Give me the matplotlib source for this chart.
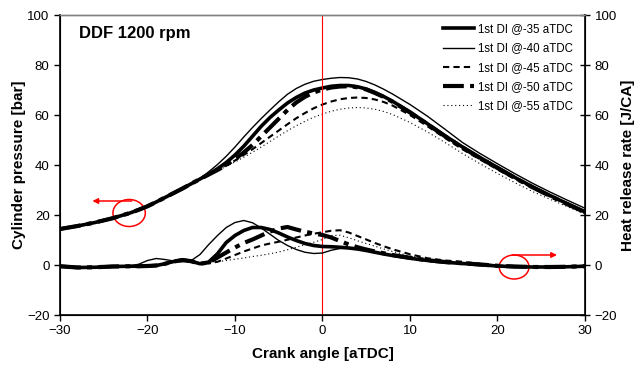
import matplotlib
matplotlib.use("Agg")
import matplotlib.pyplot as plt
from matplotlib.patches import Ellipse

plt.rcParams["font.family"] = ["Liberation Sans", "DejaVu Sans"]

# crank angle grid [aTDC]
crank = [-30, -28, -26, -24, -22, -21, -20, -19, -18, -17, -16, -15, -14, -13,
         -12, -11, -10, -9, -8, -7, -6, -5, -4, -3, -2, -1, 0, 1, 2, 3, 4, 5,
         6, 7, 8, 10, 12, 14, 16, 18, 20, 22, 24, 26, 28, 30]

labels = ["1st DI @-35 aTDC", "1st DI @-40 aTDC", "1st DI @-45 aTDC",
          "1st DI @-50 aTDC", "1st DI @-55 aTDC"]

# cylinder pressure [bar]
p_35 = [14.4, 15.6, 17.0, 18.7, 20.8, 22.1, 23.5, 25.2, 27.0, 28.8, 30.6, 32.5,
        34.4, 36.3, 38.5, 41.0, 44.0, 47.5, 51.5, 55.5, 59.0, 62.0, 64.8, 67.0,
        68.8, 70.0, 70.8, 71.5, 71.8, 71.8, 71.3, 70.4, 69.0, 67.4, 65.5, 61.2,
        56.5, 51.7, 47.2, 43.0, 39.0, 35.0, 31.3, 27.8, 24.5, 21.3]
p_40 = [14.4, 15.6, 17.0, 18.7, 20.8, 22.1, 23.5, 25.2, 27.0, 28.8, 30.6, 32.5,
        34.6, 37.3, 40.2, 43.5, 47.2, 51.2, 55.0, 58.6, 62.0, 65.3, 68.3, 70.6,
        72.3, 73.5, 74.2, 74.7, 75.0, 74.9, 74.4, 73.4, 72.0, 70.3, 68.4, 64.2,
        59.5, 54.3, 49.0, 44.6, 40.5, 36.5, 32.7, 29.2, 25.9, 22.7]
p_45 = [14.4, 15.6, 17.0, 18.7, 20.8, 22.1, 23.5, 25.2, 27.0, 28.8, 30.6, 32.5,
        34.4, 36.3, 38.0, 39.8, 41.8, 44.0, 46.3, 48.8, 51.3, 53.8, 56.3, 58.7,
        60.8, 62.7, 64.2, 65.4, 66.3, 66.8, 67.0, 66.8, 66.2, 65.2, 63.8, 60.0,
        55.5, 50.8, 46.3, 42.2, 38.2, 34.4, 30.8, 27.4, 24.2, 21.0]
p_50 = [14.4, 15.6, 17.0, 18.7, 20.8, 22.1, 23.5, 25.2, 27.0, 28.8, 30.6, 32.5,
        34.4, 36.2, 38.0, 40.0, 42.4, 45.0, 48.0, 51.5, 55.0, 58.5, 62.0, 65.0,
        67.3, 69.0, 70.2, 71.0, 71.4, 71.5, 71.1, 70.2, 68.8, 67.2, 65.3, 61.0,
        56.3, 51.5, 47.0, 42.8, 38.8, 34.8, 31.1, 27.6, 24.3, 21.1]
p_55 = [14.4, 15.6, 17.0, 18.7, 20.8, 22.1, 23.5, 25.2, 27.0, 28.8, 30.6, 32.5,
        34.4, 36.3, 37.8, 39.4, 41.2, 43.1, 45.1, 47.2, 49.4, 51.6, 53.7, 55.7,
        57.5, 59.1, 60.4, 61.5, 62.3, 62.8, 63.0, 62.8, 62.3, 61.4, 60.2, 57.0,
        53.2, 49.0, 44.6, 40.5, 36.6, 32.9, 29.4, 26.3, 23.3, 20.4]

# heat release rate [J/CA]
q_35 = [-0.5, -1.0, -0.9, -0.6, -0.5, -0.5, -0.4, -0.2, 0.5, 1.4, 2.0, 1.5,
        0.5, 1.2, 4.5, 9.0, 11.8, 13.8, 15.0, 15.0, 14.2, 12.8, 11.2, 9.8,
        8.6, 7.8, 7.4, 7.3, 7.1, 6.8, 6.4, 5.8, 5.1, 4.4, 3.8, 2.7,
        1.8, 1.1, 0.6, 0.1, -0.4, -0.7, -0.8, -0.8, -0.7, -0.5]
q_40 = [-0.5, -1.0, -0.9, -0.6, -0.3, 0.3, 1.8, 2.6, 2.2, 1.6, 1.3, 1.8,
        4.2, 8.2, 11.8, 15.0, 17.0, 17.8, 16.9, 14.8, 12.3, 9.8, 7.8, 6.2,
        5.1, 4.6, 4.8, 5.9, 6.6, 6.7, 6.3, 5.7, 5.0, 4.3, 3.7, 2.6,
        1.7, 1.0, 0.6, 0.1, -0.4, -0.7, -0.8, -0.8, -0.7, -0.5]
q_45 = [-0.5, -1.0, -0.9, -0.6, -0.5, -0.5, -0.4, -0.2, 0.5, 1.4, 2.0, 1.5,
        0.5, 0.6, 1.3, 2.6, 4.0, 5.4, 6.6, 7.8, 8.6, 9.3, 10.1, 11.0,
        11.8, 12.5, 13.1, 13.7, 13.9, 13.0, 11.6, 10.2, 8.8, 7.5, 6.3, 4.3,
        2.7, 1.8, 1.3, 0.5, -0.2, -0.6, -0.8, -0.8, -0.7, -0.5]
q_50 = [-0.5, -1.0, -0.9, -0.6, -0.5, -0.5, -0.4, -0.2, 0.5, 1.4, 2.0, 1.5,
        0.5, 1.0, 3.0, 5.0, 7.0, 8.8, 10.2, 11.8, 13.4, 14.6, 15.2, 14.2,
        13.3, 12.6, 12.0, 11.0, 9.6, 8.2, 7.1, 6.2, 5.4, 4.7, 4.0, 2.9,
        1.9, 1.2, 0.7, 0.2, -0.3, -0.6, -0.8, -0.8, -0.7, -0.5]
q_55 = [-0.5, -1.0, -0.9, -0.6, -0.5, -0.5, -0.4, -0.2, 0.5, 1.4, 2.0, 1.5,
        0.5, 1.0, 1.3, 1.8, 2.3, 2.8, 3.4, 3.9, 4.5, 5.2, 6.1, 7.1,
        8.1, 9.1, 10.2, 11.8, 11.9, 10.9, 9.7, 8.6, 7.5, 6.4, 5.4, 3.6,
        2.3, 1.5, 1.0, 0.3, -0.3, -0.6, -0.8, -0.8, -0.7, -0.5]

pressures = [p_35, p_40, p_45, p_50, p_55]
hrrs = [q_35, q_40, q_45, q_50, q_55]

styles = [
    dict(lw=2.6, ls="-"),
    dict(lw=1.0, ls="-"),
    dict(lw=1.5, dashes=(3, 2)),
    dict(lw=3.0, dashes=(5, 1.5, 1.2, 1.5)),
    dict(lw=0.8, dashes=(1, 2.5)),
]

fig = plt.figure(figsize=(6.44, 3.69), dpi=100)
ax = fig.add_axes([60 / 644, 1 - 315 / 369, 525 / 644, 300 / 369])
ax2 = ax.twinx()

lines = []
for p, q, lab, st in zip(pressures, hrrs, labels, styles):
    ln, = ax.plot(crank, p, color="black", label=lab, **st)
    ax2.plot(crank, q, color="black", **st)
    lines.append(ln)

ax.axvline(0, color="red", lw=0.8)

for a in (ax, ax2):
    a.set_xlim(-30, 30)
    a.set_ylim(-20, 100)
    a.set_yticks(range(-20, 101, 20))
ax.set_xticks(range(-30, 31, 10))

ax.tick_params(axis="both", direction="out", length=4, labelsize=9.5, width=1)
ax2.tick_params(axis="y", direction="inout", length=7, labelsize=9.5, width=1)
for s in ("left", "bottom"):
    ax.spines[s].set_linewidth(1.2)
ax2.spines["right"].set_linewidth(1.2)
for a in (ax, ax2):
    a.spines["top"].set_color("#808080")
    a.spines["top"].set_linewidth(1.0)

ax.set_xlabel("Crank angle [aTDC]", fontsize=11, fontweight="bold", labelpad=7)
ax.set_ylabel("Cylinder pressure [bar]", fontsize=11, fontweight="bold", labelpad=1)
ax2.set_ylabel("Heat release rate [J/CA]", fontsize=11, fontweight="bold", labelpad=3)

ax.text(-27.8, 92.5, "DDF 1200 rpm", fontsize=12, fontweight="bold", va="center")

# red markers: which axis each set of curves belongs to
ax.add_patch(Ellipse((-22.1, 20.8), 3.7, 10.8, fill=False, ec="red", lw=1.1))
ax.annotate("", xy=(-26.3, 25.6), xytext=(-21.8, 25.6),
            arrowprops=dict(arrowstyle="-|>", color="red", lw=1.1,
                            mutation_scale=8, shrinkA=0, shrinkB=0))
ax.add_patch(Ellipse((21.9, -0.8), 3.4, 9.6, fill=False, ec="red", lw=1.1))
ax.annotate("", xy=(26.8, 4.0), xytext=(21.7, 4.0),
            arrowprops=dict(arrowstyle="-|>", color="red", lw=1.1,
                            mutation_scale=8, shrinkA=0, shrinkB=0))

ax2.legend(lines, labels, loc="upper left", bbox_to_anchor=(0.7295, 0.972),
           frameon=False, fontsize=8.3, handlelength=2.7, handletextpad=0.35,
           labelspacing=0.62, borderpad=0, borderaxespad=0)

fig.savefig("out.png", dpi=100)
